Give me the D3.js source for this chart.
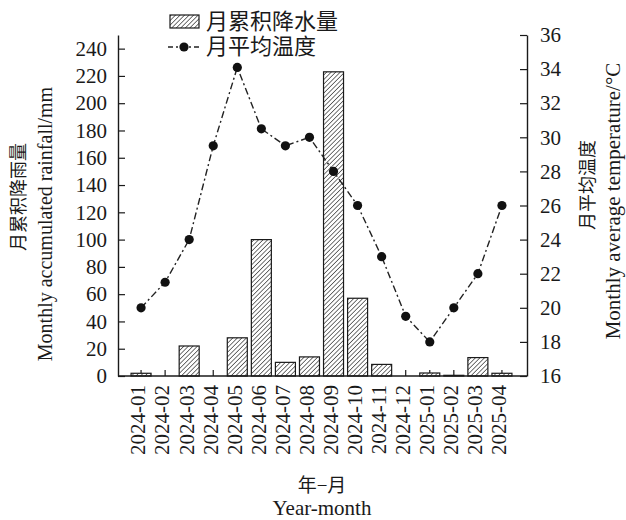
<!DOCTYPE html>
<html><head><meta charset="utf-8">
<script src="https://cdn.jsdelivr.net/npm/d3@7"></script>
<style>
body{margin:0;background:#fff;}
text{font-family:"Liberation Serif","Times New Roman","Noto Sans CJK SC",serif;fill:#1a1a1a;}
.cjk{font-family:"Liberation Serif","Noto Sans CJK SC",serif;}
</style></head>
<body>
<svg id="c" width="626" height="520"></svg>
<script>
const months = ["2024-01","2024-02","2024-03","2024-04","2024-05","2024-06","2024-07","2024-08","2024-09","2024-10","2024-11","2024-12","2025-01","2025-02","2025-03","2025-04"];
const rainfall = [2, 0, 22, 0, 28, 100, 10, 14, 223, 57, 8.5, 0, 2.2, 0.5, 13.5, 2];
const temperature = [20, 21.5, 24, 29.5, 34.1, 30.5, 29.5, 30, 28, 26, 23, 19.5, 18, 20, 22, 26];
const rainTicks = [0,20,40,60,80,100,120,140,160,180,200,220,240];
const tempTicks = [16,18,20,22,24,26,28,30,32,34,36];
const legendLabels = ["月累积降水量","月平均温度"];

const svg = d3.select("#c");
const L = 118, R = 527, T = 35, B = 376;
const ink = "#1a1a1a";

const x = d3.scaleBand().domain(months).range([L-1, R-1]).paddingInner(0).paddingOuter(0.5);
const yR = d3.scaleLinear().domain([0,250]).range([B,T]);
const yT = d3.scaleLinear().domain([16,36]).range([B,T]);

const defs = svg.append("defs");
const pat = defs.append("pattern").attr("id","hatch").attr("patternUnits","userSpaceOnUse")
  .attr("width",3.2).attr("height",3.2).attr("patternTransform","rotate(45)");
pat.append("rect").attr("width",3.2).attr("height",3.2).attr("fill","#fff");
pat.append("line").attr("x1",0).attr("y1",0).attr("x2",0).attr("y2",3.2)
  .attr("stroke","#2a2a2a").attr("stroke-width",1.3);

// bottom axis (ticks upward, labels custom)
const gx = svg.append("g").attr("transform",`translate(0,${B})`)
  .call(d3.axisBottom(x).tickSize(-6).tickSizeOuter(0).tickFormat(""));
gx.select(".domain").remove();
gx.selectAll(".tick line").attr("stroke",ink).attr("stroke-width",1.2);

// bars
const bw = 20;
svg.append("g").selectAll("rect").data(months).join("rect")
  .attr("x", d => x(d) + x.bandwidth()/2 - bw/2)
  .attr("width", bw)
  .attr("y", (d,i) => yR(rainfall[i]))
  .attr("height", (d,i) => B - yR(rainfall[i]))
  .attr("fill","url(#hatch)").attr("stroke",ink).attr("stroke-width",1.2);

svg.append("line").attr("x1",L).attr("x2",R).attr("y1",B).attr("y2",B)
  .attr("stroke",ink).attr("stroke-width",1.4);

// x labels
svg.append("g").selectAll("text").data(months).join("text")
  .attr("transform", d => `translate(${x(d)+x.bandwidth()/2-3},385) rotate(-90)`)
  .attr("text-anchor","end").attr("dy","0.35em")
  .attr("font-size",21).text(d => d);

// left axis
const gl = svg.append("g").attr("transform",`translate(${L},0)`)
  .call(d3.axisLeft(yR).tickValues(rainTicks).tickSize(-7).tickPadding(11).tickSizeOuter(0));
gl.select(".domain").attr("stroke",ink).attr("stroke-width",1.4);
gl.selectAll(".tick line").attr("stroke",ink).attr("stroke-width",1.2);
gl.selectAll(".tick text").attr("font-size",21).attr("fill",ink)
  .style("font-family","Liberation Serif");

// right axis
const gr = svg.append("g").attr("transform",`translate(${R},0)`)
  .call(d3.axisRight(yT).tickValues(tempTicks).tickSize(-7).tickPadding(13).tickSizeOuter(0));
gr.select(".domain").attr("stroke",ink).attr("stroke-width",1.4);
gr.selectAll(".tick line").attr("stroke",ink).attr("stroke-width",1.2);
gr.selectAll(".tick text").attr("font-size",21).attr("fill",ink)
  .style("font-family","Liberation Serif");

// temperature line
const cx = (d,i) => x(months[i]) + x.bandwidth()/2;
const line = d3.line().x(cx).y(d => yT(d));
svg.append("path").datum(temperature).attr("d",line)
  .attr("fill","none").attr("stroke","#222").attr("stroke-width",1.4)
  .attr("stroke-dasharray","7,3,2,3");
svg.append("g").selectAll("circle").data(temperature).join("circle")
  .attr("cx",cx).attr("cy",d => yT(d)).attr("r",4.6).attr("fill","#111");

// axis titles
svg.append("text").attr("class","cjk").attr("transform","translate(19,197) rotate(-90)")
  .attr("text-anchor","middle").attr("dy","0.35em").attr("font-size",18).text("月累积降雨量");
svg.append("text").attr("transform","translate(45,224) rotate(-90)")
  .attr("text-anchor","middle").attr("dy","0.35em").attr("font-size",20).text("Monthly accumulated rainfall/mm");
svg.append("text").attr("class","cjk").attr("transform","translate(588,185) rotate(-90)")
  .attr("text-anchor","middle").attr("dy","0.35em").attr("font-size",18).text("月平均温度");
svg.append("text").attr("transform","translate(613,201) rotate(-90)")
  .attr("text-anchor","middle").attr("dy","0.35em").attr("font-size",21).text("Monthly average temperature/°C");

svg.append("text").attr("class","cjk").attr("x",322).attr("y",492)
  .attr("text-anchor","middle").attr("font-size",19).text("年−月");
svg.append("text").attr("x",322).attr("y",515)
  .attr("text-anchor","middle").attr("font-size",21).text("Year-month");

// legend
const lg = svg.append("g");
lg.append("rect").attr("x",170).attr("y",15).attr("width",29).attr("height",13)
  .attr("fill","url(#hatch)").attr("stroke",ink).attr("stroke-width",1.2);
lg.append("text").attr("class","cjk").attr("x",206).attr("y",21).attr("dy","0.35em")
  .attr("font-size",22).text(legendLabels[0]);
lg.append("line").attr("x1",168).attr("x2",200).attr("y1",47).attr("y2",47)
  .attr("stroke","#222").attr("stroke-width",1.4).attr("stroke-dasharray","5,3,2,3");
lg.append("circle").attr("cx",184).attr("cy",47).attr("r",4.6).attr("fill","#111");
lg.append("text").attr("class","cjk").attr("x",206).attr("y",46).attr("dy","0.35em")
  .attr("font-size",22).text(legendLabels[1]);
</script>
</body></html>
